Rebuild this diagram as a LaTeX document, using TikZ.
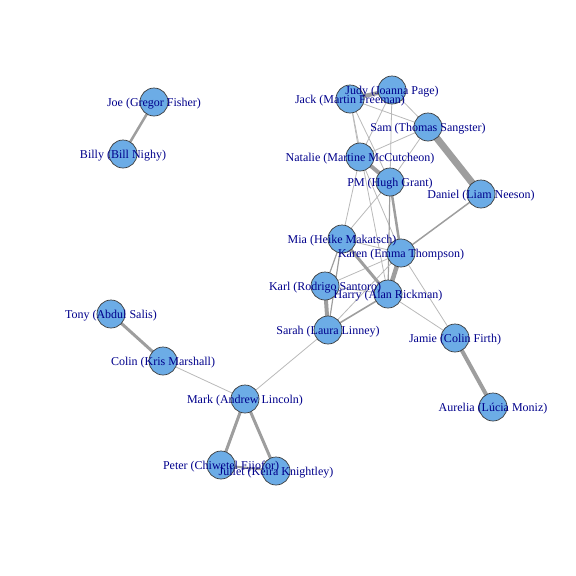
\documentclass[tikz,border=0pt]{standalone}
\usepackage{fontspec}
\setmainfont{Liberation Serif}
\definecolor{vfill}{RGB}{108,172,230}
\definecolor{vline}{RGB}{60,60,60}
\definecolor{elc}{RGB}{158,158,158}
\definecolor{elt}{RGB}{185,185,185}
\definecolor{lab}{RGB}{0,0,139}
\tikzset{
  vert/.style={circle,draw=vline,line width=0.7pt,fill=vfill,minimum size=28pt,inner sep=0pt},
  vlab/.style={text=lab,font=\fontsize{12}{14}\selectfont,inner sep=0pt,yshift=-1.5pt},
  ed/.style={draw=elc,line width=#1},
  ed/.default=1pt,
  thin edge/.style={draw=elt,line width=0.8pt}
}
\begin{document}
\begin{tikzpicture}[x=1pt,y=-1pt]
\useasboundingbox (0,0) rectangle (576,576);
% vertex centres
\coordinate (Joe) at (154,102);
\coordinate (Billy) at (123,154);
\coordinate (Jack) at (350,99);
\coordinate (Judy) at (392,90);
\coordinate (Sam) at (428,127);
\coordinate (Natalie) at (360,157);
\coordinate (PM) at (390,182);
\coordinate (Daniel) at (481,194);
\coordinate (Mia) at (342,239);
\coordinate (Karen) at (401,253);
\coordinate (Karl) at (325,286);
\coordinate (Harry) at (388,294);
\coordinate (Sarah) at (328,330);
\coordinate (Jamie) at (455,338);
\coordinate (Aurelia) at (493,407);
\coordinate (Tony) at (111,314);
\coordinate (Colin) at (163,361);
\coordinate (Mark) at (245,399);
\coordinate (Peter) at (221,465);
\coordinate (Juliet) at (276,471);
% edges
\draw[thin edge] (Jack) -- (Sam);
\draw[thin edge] (Judy) -- (Sam);
\draw[thin edge] (Judy) -- (PM);
\draw[thin edge] (Judy) -- (Natalie);
\draw[thin edge] (Jack) -- (Natalie);
\draw[thin edge] (Jack) -- (PM);
\draw[thin edge] (Sam) -- (Natalie);
\draw[thin edge] (Sam) -- (PM);
\draw[thin edge] (Natalie) -- (Mia);
\draw[thin edge] (Natalie) -- (Karen);
\draw[thin edge] (Jack) -- (Harry);
\draw[thin edge] (PM) -- (Mia);
\draw[ed=1.2pt] (PM) -- (Harry);
\draw[thin edge] (Mia) -- (Karen);
\draw[ed=1.2pt] (Mia) -- (Karl);
\draw[ed=1.2pt] (Mia) -- (Sarah);
\draw[thin edge] (Karl) -- (Karen);
\draw[thin edge] (Karl) -- (Harry);
\draw[thin edge] (Sarah) -- (Karen);
\draw[ed=1.6pt] (Sarah) -- (Harry);
\draw[thin edge] (Karen) -- (Jamie);
\draw[thin edge] (Harry) -- (Jamie);
\draw[ed=1.5pt] (Daniel) -- (Karen);
\draw[thin edge] (Colin) -- (Mark);
\draw[thin edge] (Mark) -- (Sarah);
\draw[ed=2.5pt] (Joe) -- (Billy);
\draw[ed=4pt] (Jack) -- (Judy);
\draw[ed=7pt] (Sam) -- (Daniel);
\draw[ed=4pt] (Natalie) -- (PM);
\draw[ed=2.5pt] (PM) -- (Karen);
\draw[ed=4.5pt] (Karen) -- (Harry);
\draw[ed=3pt] (Mia) -- (Harry);
\draw[ed=4pt] (Karl) -- (Sarah);
\draw[ed=4pt] (Jamie) -- (Aurelia);
\draw[ed=3pt] (Tony) -- (Colin);
\draw[ed=3pt] (Mark) -- (Peter);
\draw[ed=3pt] (Mark) -- (Juliet);
\draw[ed=2pt] (Peter) -- (Juliet);
% vertices
\foreach \v in {Joe,Billy,Jack,Judy,Sam,Natalie,PM,Daniel,Mia,Karen,Karl,Harry,Sarah,Jamie,Aurelia,Tony,Colin,Mark,Peter,Juliet}
  \node[vert] (v\v) at (\v) {};
% labels
\node[vlab] (lJoe) at (Joe) {Joe (Gregor Fisher)};
\node[vlab] (lBilly) at (Billy) {Billy (Bill Nighy)};
\node[vlab] (lJack) at (Jack) {Jack (Martin Freeman)};
\node[vlab] (lJudy) at (Judy) {Judy (Joanna Page)};
\node[vlab] (lSam) at (Sam) {Sam (Thomas Sangster)};
\node[vlab] (lNatalie) at (Natalie) {Natalie (Martine McCutcheon)};
\node[vlab] (lPM) at (PM) {PM (Hugh Grant)};
\node[vlab] (lDaniel) at (Daniel) {Daniel (Liam Neeson)};
\node[vlab] (lMia) at (Mia) {Mia (Heike Makatsch)};
\node[vlab] (lKaren) at (Karen) {Karen (Emma Thompson)};
\node[vlab] (lKarl) at (Karl) {Karl (Rodrigo Santoro)};
\node[vlab] (lHarry) at (Harry) {Harry (Alan Rickman)};
\node[vlab] (lSarah) at (Sarah) {Sarah (Laura Linney)};
\node[vlab] (lJamie) at (Jamie) {Jamie (Colin Firth)};
\node[vlab] (lAurelia) at (Aurelia) {Aurelia (Lúcia Moniz)};
\node[vlab] (lTony) at (Tony) {Tony (Abdul Salis)};
\node[vlab] (lColin) at (Colin) {Colin (Kris Marshall)};
\node[vlab] (lMark) at (Mark) {Mark (Andrew Lincoln)};
\node[vlab] (lPeter) at (Peter) {Peter (Chiwetel Ejiofor)};
\node[vlab] (lJuliet) at (Juliet) {Juliet (Keira Knightley)};
\end{tikzpicture}
\end{document}
